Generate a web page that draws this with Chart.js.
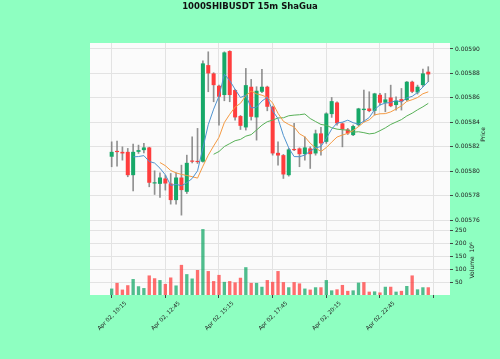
<!DOCTYPE html>
<html>
<head>
<meta charset="utf-8">
<script src="https://cdn.jsdelivr.net/npm/chart.js@4.4.1/dist/chart.umd.min.js"></script>
<style>
  html, body { margin: 0; padding: 0; background: #8effc1; }
</style>
</head>
<body>
<canvas id="chart-candles" width="500" height="359"></canvas>
<script>
// 15m candles, Apr 02 from 10:15 on
const opens = [
  0.0058118, 0.0058161, 0.0058158, 0.0058158, 0.0057967, 0.0058158, 0.0058172, 0.0058194, 0.0057899, 0.0057896,
  0.0057940, 0.0057899, 0.0057763, 0.0057948, 0.0057831, 0.0058082, 0.0058079, 0.0058077, 0.0058868, 0.0058800,
  0.0058699, 0.0058623, 0.0058983, 0.0058664, 0.0058451, 0.0058358, 0.0058691, 0.0058440, 0.0058650, 0.0058691,
  0.0058527, 0.0058150, 0.0058131, 0.0057967, 0.0058180, 0.0058186, 0.0058139, 0.0058186, 0.0058145, 0.0058309,
  0.0058240, 0.0058467, 0.0058562, 0.0058391, 0.0058341, 0.0058295, 0.0058377, 0.0058500, 0.0058513, 0.0058494,
  0.0058625, 0.0058560, 0.0058603, 0.0058541, 0.0058590, 0.0058582, 0.0058732, 0.0058644, 0.0058704, 0.0058814,
];
const highs = [
  0.0058240, 0.0058246, 0.0058199, 0.0058186, 0.0058221, 0.0058213, 0.0058227, 0.0058196, 0.0058003, 0.0057986,
  0.0057967, 0.0057981, 0.0057986, 0.0058049, 0.0058131, 0.0058281, 0.0058350, 0.0058904, 0.0058977, 0.0058806,
  0.0058704, 0.0058977, 0.0058986, 0.0058669, 0.0058456, 0.0058841, 0.0058751, 0.0058691, 0.0058833, 0.0058696,
  0.0058532, 0.0058240, 0.0058137, 0.0058186, 0.0058391, 0.0058191, 0.0058281, 0.0058199, 0.0058336, 0.0058358,
  0.0058478, 0.0058603, 0.0058568, 0.0058396, 0.0058350, 0.0058377, 0.0058515, 0.0058664, 0.0058650, 0.0058638,
  0.0058636, 0.0058636, 0.0058704, 0.0058609, 0.0058677, 0.0058734, 0.0058737, 0.0058704, 0.0058836, 0.0058855,
];
const lows = [
  0.0058036, 0.0058041, 0.0058090, 0.0057954, 0.0057839, 0.0058145, 0.0058150, 0.0057872, 0.0057809, 0.0057784,
  0.0057845, 0.0057730, 0.0057730, 0.0057640, 0.0057817, 0.0058068, 0.0058063, 0.0058074, 0.0058650, 0.0058568,
  0.0058377, 0.0058576, 0.0058568, 0.0058418, 0.0058341, 0.0058336, 0.0058418, 0.0058254, 0.0058642, 0.0058494,
  0.0058131, 0.0058049, 0.0057940, 0.0057959, 0.0058167, 0.0058036, 0.0058090, 0.0058022, 0.0058131, 0.0058131,
  0.0058227, 0.0058440, 0.0058377, 0.0058199, 0.0058300, 0.0058290, 0.0058369, 0.0058404, 0.0058486, 0.0058459,
  0.0058541, 0.0058486, 0.0058527, 0.0058500, 0.0058500, 0.0058576, 0.0058642, 0.0058631, 0.0058691, 0.0058732,
];
const closes = [
  0.0058158, 0.0058156, 0.0058145, 0.0057967, 0.0058158, 0.0058172, 0.0058194, 0.0057905, 0.0057902, 0.0057948,
  0.0057899, 0.0057763, 0.0057948, 0.0057845, 0.0058068, 0.0058077, 0.0058074, 0.0058882, 0.0058800, 0.0058704,
  0.0058609, 0.0058972, 0.0058623, 0.0058440, 0.0058371, 0.0058704, 0.0058445, 0.0058658, 0.0058691, 0.0058527,
  0.0058145, 0.0058128, 0.0057973, 0.0058178, 0.0058172, 0.0058139, 0.0058194, 0.0058139, 0.0058309, 0.0058227,
  0.0058472, 0.0058573, 0.0058391, 0.0058341, 0.0058309, 0.0058369, 0.0058513, 0.0058511, 0.0058492, 0.0058636,
  0.0058560, 0.0058587, 0.0058532, 0.0058576, 0.0058571, 0.0058732, 0.0058650, 0.0058691, 0.0058800, 0.0058792,
];
// volume in millions
const volumes = [
  25, 47, 21, 38, 62, 34, 27, 76, 65, 58,
  43, 68, 37, 117, 81, 64, 97, 256, 93, 54,
  78, 51, 54, 49, 67, 108, 47, 47, 32, 58,
  51, 93, 50, 30, 50, 45, 25, 21, 30, 30,
  58, 18, 22, 39, 16, 18, 48, 50, 13, 14,
  10, 32, 32, 13, 16, 35, 76, 22, 30, 30,
];
const mavPeriods = [5, 10, 20];
const xTicks = [0, 10, 20, 30, 40, 50, 60];
const xTickLabels = ["Apr 02, 10:15", "Apr 02, 12:45", "Apr 02, 15:15", "Apr 02, 17:45", "Apr 02, 20:15", "Apr 02, 22:45", ""];
const priceTicks = [0.00576, 0.00578, 0.0058, 0.00582, 0.00584, 0.00586, 0.00588, 0.0059];
const volumeTicks = [50, 100, 150, 200, 250];
const chartTitle = "1000SHIBUSDT 15m ShaGua";

(function () {
  const upColor = "rgb(22, 168, 104)";
  const downColor = "rgb(255, 61, 61)";
  const upVol = "rgba(22, 168, 104, 0.75)";
  const downVol = "rgba(255, 61, 61, 0.75)";
  const wickColor = "rgba(110, 110, 110, 0.75)";
  const gridColor = "#e3e3e3";
  const tickColor = "#222";
  const mavColors = ["#4f93cf", "#f59a42", "#58b158"];
  const tickFont = { family: "DejaVu Sans", size: 6 };

  const sma = (n) => closes.map((c, i) => {
    if (i < n - 1) return null;
    let s = 0;
    for (let k = i - n + 1; k <= i; k++) s += closes[k];
    return { x: i, y: s / n };
  }).filter(Boolean);

  const bodyColors = closes.map((c, i) => (c >= opens[i] ? upColor : downColor));
  const volColors = closes.map((c, i) => {
    const ref = i === 0 ? opens[0] : closes[i - 1];
    return c >= ref ? upVol : downVol;
  });

  const plotBg = {
    id: "plotBg",
    beforeDraw(chart) {
      const { ctx, chartArea: a } = chart;
      ctx.save();
      ctx.fillStyle = "#8effc1";
      ctx.fillRect(0, 0, chart.width, chart.height);
      ctx.fillStyle = "#fbfbfb";
      ctx.fillRect(a.left, a.top, a.right - a.left, a.bottom - a.top);
      ctx.restore();
    },
  };

  // figure title centred on the whole canvas, axis labels read bottom-to-top
  const texts = {
    id: "texts",
    afterDraw(chart) {
      const ctx = chart.ctx;
      const r = chart.chartArea.right;
      ctx.save();
      ctx.fillStyle = "#111";
      ctx.textAlign = "center";
      ctx.textBaseline = "middle";
      ctx.font = 'bold 8.5px "DejaVu Sans"';
      ctx.fillText(chartTitle, chart.width / 2, 7);

      ctx.fillStyle = tickColor;
      ctx.font = '6px "DejaVu Sans"';
      [
        [chart.scales.y, "Price", 33],
        [chart.scales.yv, "Volume  10\u2076", 22],
      ].forEach(([s, text, dx]) => {
        ctx.save();
        ctx.translate(r + dx, (s.top + s.bottom) / 2);
        ctx.rotate(-Math.PI / 2);
        ctx.fillText(text, 0, 0);
        ctx.restore();
      });
      ctx.restore();
    },
  };

  const el = document.getElementById("chart-candles");
  new Chart(el, {
    type: "bar",
    data: {
      datasets: [
        ...mavPeriods.map((n, k) => ({
          type: "line",
          label: "MA" + n,
          data: sma(n),
          yAxisID: "y",
          borderColor: mavColors[k],
          borderWidth: 1,
          pointRadius: 0,
          tension: 0,
          order: 0,
        })),
        {
          label: "body",
          data: opens.map((o, i) => ({ x: i, y: [o, closes[i]] })),
          yAxisID: "y",
          backgroundColor: bodyColors,
          barPercentage: 0.75,
          categoryPercentage: 1,
          minBarLength: 1.2,
          grouped: false,
          order: 1,
        },
        {
          label: "wick",
          data: lows.map((l, i) => ({ x: i, y: [l, highs[i]] })),
          yAxisID: "y",
          backgroundColor: wickColor,
          barThickness: 1,
          grouped: false,
          order: 2,
        },
        {
          label: "volume",
          data: volumes.map((v, i) => ({ x: i, y: v })),
          yAxisID: "yv",
          backgroundColor: volColors,
          barPercentage: 0.62,
          categoryPercentage: 1,
          grouped: false,
          order: 3,
        },
      ],
    },
    options: {
      responsive: false,
      animation: false,
      devicePixelRatio: 1,
      layout: { padding: { left: 90, right: 0, top: 43, bottom: 0 } },
      plugins: {
        legend: { display: false },
        tooltip: { enabled: false },
      },
      scales: {
        x: {
          type: "linear",
          offset: false,
          min: -4.04,
          max: 63.05,
          afterBuildTicks: (s) => { s.ticks = xTicks.map((v) => ({ value: v })); },
          afterFit: (s) => { s.height = 64; },
          ticks: {
            autoSkip: false,
            minRotation: 45,
            maxRotation: 45,
            labelOffset: 14,
            padding: 2,
            color: tickColor,
            font: { family: "DejaVu Sans", size: 5.6 },
            callback: (v, i) => xTickLabels[i],
          },
          grid: { offset: false, color: gridColor, tickColor: "#444", tickLength: 3 },
          border: { display: false },
        },
        y: {
          position: "right",
          stack: "panels",
          stackWeight: 183,
          min: 0.0057551,
          max: 0.0059049,
          afterBuildTicks: (s) => { s.ticks = priceTicks.map((v) => ({ value: v })); },
          afterFit: (s) => { s.width = 50; },
          ticks: {
            padding: 2,
            color: tickColor,
            font: tickFont,
            callback: (v) => v.toFixed(5),
          },
          grid: { color: gridColor, tickColor: "#444", tickLength: 3 },
          border: { display: false },
        },
        yv: {
          position: "right",
          stack: "panels",
          stackWeight: 69,
          min: 0,
          max: 268,
          afterBuildTicks: (s) => { s.ticks = volumeTicks.map((v) => ({ value: v })); },
          afterFit: (s) => { s.width = 50; },
          ticks: {
            padding: 2,
            color: tickColor,
            font: tickFont,
          },
          grid: { color: gridColor, tickColor: "#444", tickLength: 3 },
          border: { display: false },
        },
      },
    },
    plugins: [plotBg, texts],
  });
})();
</script>
</body>
</html>
